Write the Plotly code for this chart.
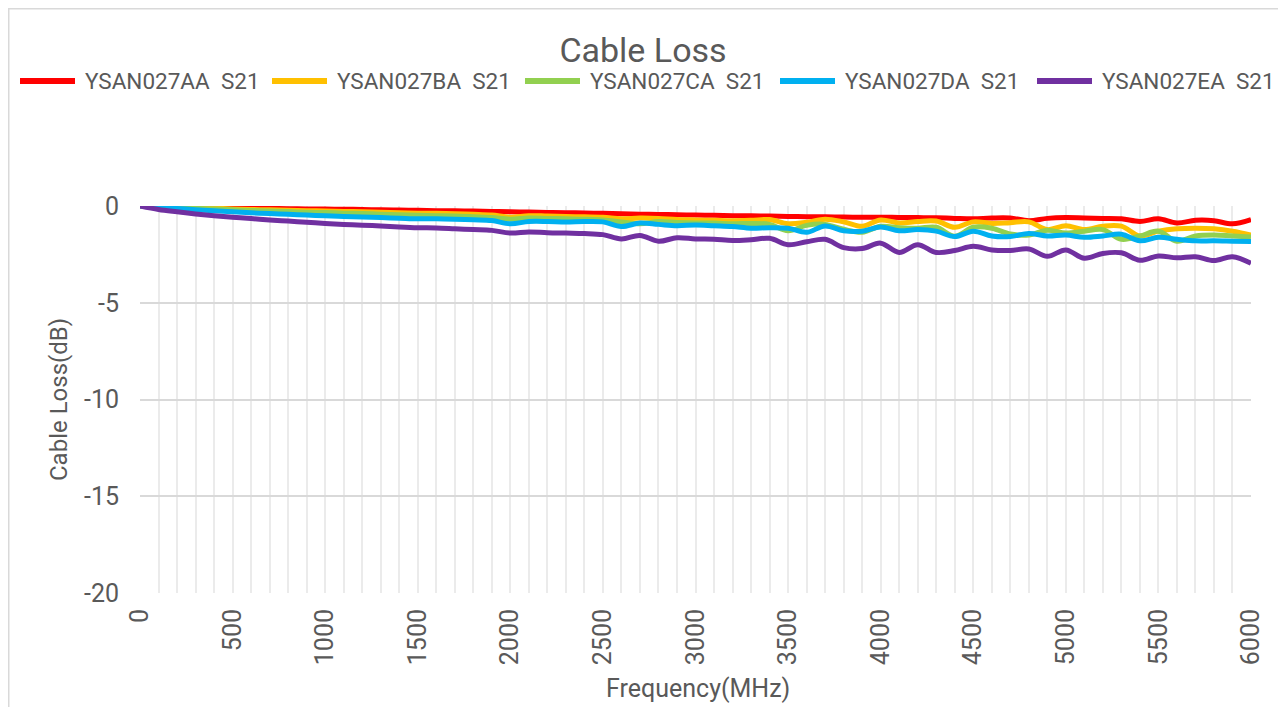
import plotly.graph_objects as go

freq = list(range(0, 6001, 100))

names = ["YSAN027AA  S21", "YSAN027BA  S21", "YSAN027CA  S21", "YSAN027DA  S21", "YSAN027EA  S21"]
colors = ["#FF0000", "#FFC000", "#92D050", "#00B0F0", "#7030A0"]

aa = [0, -0.02, -0.04, -0.06, -0.08, -0.10, -0.12, -0.13, -0.14, -0.15, -0.16, -0.17, -0.18, -0.20, -0.21, -0.22,
      -0.24, -0.25, -0.26, -0.28, -0.30, -0.31, -0.33, -0.35, -0.36, -0.38, -0.40, -0.42, -0.44, -0.45, -0.47,
      -0.48, -0.50, -0.51, -0.52, -0.54, -0.55, -0.56, -0.57, -0.58, -0.58, -0.59, -0.60, -0.61, -0.64, -0.66,
      -0.62, -0.62, -0.76, -0.64, -0.60, -0.62, -0.64, -0.66, -0.80, -0.66, -0.88, -0.74, -0.76, -0.92, -0.70]
ba = [0, -0.03, -0.06, -0.09, -0.12, -0.15, -0.18, -0.20, -0.22, -0.24, -0.26, -0.28, -0.30, -0.32, -0.35, -0.37,
      -0.38, -0.40, -0.43, -0.47, -0.58, -0.50, -0.52, -0.54, -0.56, -0.58, -0.66, -0.62, -0.64, -0.70, -0.72,
      -0.74, -0.76, -0.74, -0.70, -0.92, -0.84, -0.68, -0.82, -1.05, -0.72, -0.88, -0.80, -0.78, -1.10, -0.82,
      -0.90, -0.86, -0.82, -1.22, -1.02, -1.22, -1.04, -1.04, -1.55, -1.30, -1.18, -1.15, -1.18, -1.30, -1.50]
ca = [0, -0.04, -0.08, -0.12, -0.16, -0.20, -0.23, -0.26, -0.29, -0.32, -0.34, -0.37, -0.39, -0.42, -0.45, -0.48,
      -0.50, -0.52, -0.55, -0.60, -0.68, -0.62, -0.64, -0.66, -0.68, -0.72, -0.82, -0.92, -0.80, -0.85, -0.88,
      -0.88, -0.92, -0.90, -0.95, -1.28, -1.00, -0.95, -1.20, -1.36, -1.05, -1.12, -1.15, -1.10, -1.56, -1.10,
      -1.15, -1.45, -1.50, -1.25, -1.40, -1.30, -1.22, -1.72, -1.55, -1.30, -1.82, -1.55, -1.50, -1.55, -1.60]
da = [0, -0.07, -0.13, -0.19, -0.25, -0.30, -0.35, -0.39, -0.43, -0.47, -0.51, -0.54, -0.57, -0.60, -0.63, -0.66,
      -0.66, -0.68, -0.71, -0.75, -0.92, -0.80, -0.80, -0.83, -0.80, -0.82, -1.06, -0.88, -0.95, -1.02, -0.98,
      -1.02, -1.06, -1.15, -1.12, -1.15, -1.36, -1.03, -1.28, -1.30, -1.08, -1.28, -1.22, -1.30, -1.58, -1.30,
      -1.55, -1.58, -1.42, -1.55, -1.50, -1.62, -1.55, -1.46, -1.80, -1.62, -1.72, -1.80, -1.80, -1.82, -1.84]
ea = [0, -0.18, -0.30, -0.41, -0.50, -0.58, -0.65, -0.72, -0.78, -0.84, -0.90, -0.95, -0.99, -1.03, -1.08, -1.12,
      -1.14, -1.18, -1.22, -1.26, -1.40, -1.34, -1.38, -1.40, -1.42, -1.48, -1.70, -1.52, -1.82, -1.64, -1.70,
      -1.72, -1.78, -1.74, -1.67, -2.00, -1.85, -1.72, -2.15, -2.20, -1.92, -2.40, -2.00, -2.40, -2.30, -2.08,
      -2.27, -2.30, -2.22, -2.60, -2.27, -2.70, -2.45, -2.42, -2.80, -2.58, -2.68, -2.62, -2.82, -2.62, -2.96]
series = [aa, ba, ca, da, ea]

y_ticks = [0, -5, -10, -15, -20]
y_ticktext = ["0", "-5", "-10", "-15", "-20"]
x_ticks = [0, 500, 1000, 1500, 2000, 2500, 3000, 3500, 4000, 4500, 5000, 5500, 6000]

FONT = "Roboto, Liberation Sans, sans-serif"
GREY = "#595959"

# figure geometry (pixels)
W, H = 1278, 699
L, R, T, B = 132, 35, 198, 114
PW, PH = W - L - R, H - T - B


def px(xp):
    return (xp - L) / PW


def py(yp):
    return (H - B - yp) / PH


fig = go.Figure()
for name, col, vals in zip(names, colors, series):
    fig.add_trace(go.Scatter(x=freq, y=vals, mode="lines", name=name, showlegend=False,
                             line=dict(color=col, width=5, shape="spline", smoothing=1.0)))

fig.update_layout(
    width=W, height=H,
    margin=dict(l=L, r=R, t=T, b=B),
    paper_bgcolor="white", plot_bgcolor="white",
    font=dict(family=FONT, color=GREY, size=24),
    title=dict(text="Cable Loss", x=635 / W, xanchor="center", y=1 - 42 / H, yanchor="middle",
               font=dict(size=34, color=GREY, family=FONT)),
    showlegend=False,
)

fig.update_xaxes(range=[0, 6000], tickvals=x_ticks, tickangle=-90,
                 showgrid=True, gridcolor="#EBEBEB", gridwidth=2,
                 minor=dict(dtick=100, showgrid=True, gridcolor="#EBEBEB", gridwidth=2),
                 zeroline=False, showline=False, ticks="", ticklabelstandoff=10,
                 tickfont=dict(size=25, color=GREY, family=FONT))
fig.update_yaxes(range=[-20, 0], tickvals=y_ticks, ticktext=y_ticktext,
                 showgrid=True, gridcolor="#D9D9D9", gridwidth=2,
                 zeroline=False, showline=False, ticks="", ticklabelstandoff=20,
                 tickfont=dict(size=25, color=GREY, family=FONT))

# axis titles
fig.add_annotation(text="Frequency(MHz)", xref="paper", yref="paper", x=px(690), y=py(680),
                   xanchor="center", yanchor="middle", showarrow=False,
                   font=dict(size=25, color=GREY, family=FONT))
fig.add_annotation(text="Cable Loss(dB)", xref="paper", yref="paper", x=px(51), y=py(392),
                   xanchor="center", yanchor="middle", textangle=-90, showarrow=False,
                   font=dict(size=24, color=GREY, family=FONT))

# legend (drawn manually to match the wide single-row layout)
leg_line_x = [12, 264, 517, 772, 1029]
leg_y = 73
for name, col, lx in zip(names, colors, leg_line_x):
    fig.add_shape(type="line", xref="paper", yref="paper",
                  x0=px(lx), x1=px(lx + 55), y0=py(leg_y), y1=py(leg_y),
                  line=dict(color=col, width=6))
    fig.add_annotation(text=name.replace("  ", "\u00a0\u00a0"), xref="paper", yref="paper",
                       x=px(lx + 63), y=py(leg_y), xanchor="left", yanchor="middle",
                       showarrow=False, font=dict(size=22.5, color=GREY, family=FONT))

# chart border
fig.add_shape(type="rect", xref="paper", yref="paper",
              x0=px(0.75), x1=px(1273), y0=py(712), y1=py(0.75),
              line=dict(color="#D9D9D9", width=1.5), fillcolor="rgba(0,0,0,0)", layer="below")

fig.write_html("out.html")
